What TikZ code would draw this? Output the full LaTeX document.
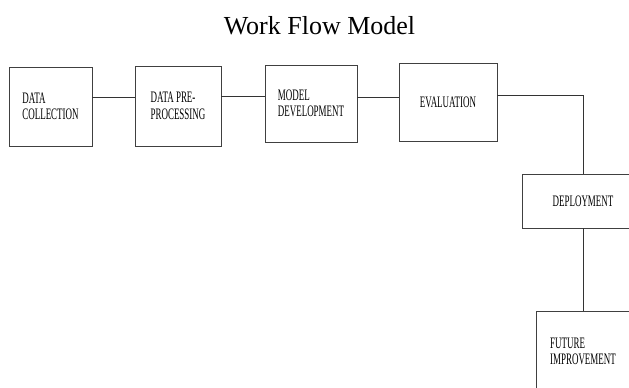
\documentclass[tikz,border=0pt]{standalone}
\usepackage{fontspec}
\setmainfont{Liberation Serif}
\newfontfamily\stagefont[FakeStretch=0.56]{Liberation Serif}
\begin{document}
\begin{tikzpicture}[x=1pt, y=-1pt,
  stage/.style={draw=black!75, line width=0.8pt, align=left, inner sep=0pt,
    font=\stagefont\fontsize{16}{16.5}\selectfont},
  link/.style={draw=black!80, line width=0.8pt}]
\useasboundingbox (0,0) rectangle (629,388);
\clip (0,0) rectangle (629,388);
\node[font=\fontsize{26}{28}\selectfont, anchor=base] (title) at (319.5,34) {Work Flow Model};
\node[stage, minimum width=83, minimum height=79] (dc) at (50.5,106.5) {DATA\\COLLECTION};
\node[stage, minimum width=86, minimum height=80] (pp) at (178,106) {DATA PRE-\\PROCESSING};
\node[stage, minimum width=92, minimum height=77] (md) at (311,103.5) {MODEL\\DEVELOPMENT};
\node[stage, minimum width=98, minimum height=78] (ev) at (448,102) {EVALUATION};
\node[stage, minimum width=122, minimum height=54] (dp) at (583,201) {DEPLOYMENT};
\node[stage, minimum width=94, minimum height=81] (fi) at (583,351.5) {FUTURE\\IMPROVEMENT};
\draw[link] (dc.east |- 0,97) -- (pp.west |- 0,97);
\draw[link] (pp.east |- 0,96) -- (md.west |- 0,96);
\draw[link] (md.east |- 0,97) -- (ev.west |- 0,97);
\draw[link] (ev.east |- 0,95) -| (dp.north);
\draw[link] (dp.south) -- (fi.north);
\end{tikzpicture}
\end{document}
